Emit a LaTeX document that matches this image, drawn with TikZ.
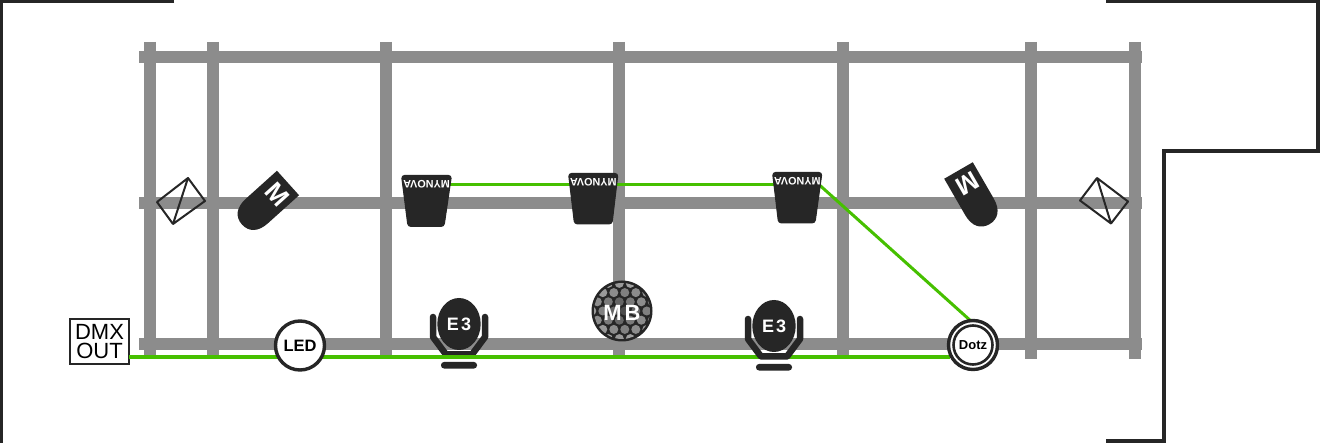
\documentclass[tikz,border=0pt]{standalone}
\usepackage{fontspec}
\setmainfont{Liberation Sans}
\definecolor{truss}{HTML}{8C8C8C}
\definecolor{ink}{HTML}{262626}
\definecolor{cable}{HTML}{46C000}
\tikzset{
  trussbar/.style={draw=truss,line width=12pt},
  wall/.style={draw=ink,line width=3.6pt,line join=miter},
  cablepath/.style={draw=cable,line width=3.6pt},
  cablethin/.style={draw=cable,line width=3pt},
  body/.style={fill=ink,draw=none},
  whitetext/.style={text=white,font=\bfseries\fontsize{#1}{#1}\selectfont,inner sep=0pt},
  darktext/.style={text=black,font=\bfseries\fontsize{#1}{#1}\selectfont,inner sep=0pt},
  strobe/.style={draw=ink,line width=2pt,line join=round},
  mynovabody/.style={fill=ink,draw=ink,line width=1pt,rounded corners=3pt},
  yoke/.style={draw=ink,line width=6.5pt,line join=round,line cap=round},
  ringa/.style={circle,draw=ink,fill=white,line width=3.4pt,inner sep=0pt},
}
\newcommand{\movinghead}[3]{% x y rotation
  \begin{scope}[shift={(#1,#2)},rotate=#3]
    \fill[body] (0,-16.5) -- (42,-16.5) .. controls (55,-16.5) and (62,-10) .. (62,0)
      .. controls (62,10) and (55,16.5) .. (42,16.5) -- (0,16.5) -- cycle;
  \end{scope}}
\newcommand{\mynova}[7]{% name left right top bottom botleft botright
  \path[mynovabody] (#2,#4) -- (#3,#4) -- (#7,#5) -- (#6,#5) -- cycle;
  \node[whitetext=10.8,rotate=180] (#1) at ({(#2+#3)/2},{#4+8.5}) {MYNOVA};}
\newcommand{\ethree}[3]{% name x y (ellipse centre)
  \begin{scope}[shift={(#2,#3)}]
    \draw[yoke] (-26,-7) -- (-26,13) -- (-13,30.5) -- (13,30.5) -- (26,13) -- (26,-7);
    \fill[body] (0,0) ellipse [x radius=21.7,y radius=26];
    \fill[body,rounded corners=3pt] (-18,38) rectangle (18,44.5);
    \node[whitetext=18] (#1) at (0,0) {E\kern2pt3};
  \end{scope}}
\begin{document}
\begin{tikzpicture}[x=1pt,y=-1pt]
\useasboundingbox (0,0) rectangle (1322,443);
\fill[white] (0,0) rectangle (1322,443);
% truss
\foreach \vx in {149.5,212.5,385.5,619,843,1031,1135}{\draw[trussbar] (\vx,42) -- (\vx,359);}
\foreach \hy in {57,203,344.5}{\draw[trussbar] (139,\hy) -- (1142,\hy);}
% walls
\draw[wall] (174,1.2) -- (1.6,1.2) -- (1.6,443);
\draw[wall] (1106,1.2) -- (1318,1.2) -- (1318,151) -- (1164,151) -- (1164,441) -- (1106,441);
% named anchors
\node[draw=ink,fill=white,line width=1.2pt,minimum width=59pt,minimum height=45pt,inner sep=0pt,align=center,
      font=\fontsize{22}{19.5}\selectfont] (dmx) at (99.5,341.5) {DMX\\OUT};
\coordinate (m1r) at (449,184.5);
\coordinate (m2l) at (570,184.5);
\coordinate (m2r) at (616,184.5);
\coordinate (m3l) at (774,184.5);
\coordinate (m3c) at (820,185.5);
\coordinate (dotzt) at (972,322);
\coordinate (dmxr) at (129,357);
\coordinate (dotzl) at (950,357);
% first E3 lies under the cable
\ethree{e1}{459}{324}
% cables
\draw[cablepath] (dmxr) -- (dotzl);
\draw[cablethin] (m1r) -- (m2l);
\draw[cablethin] (m2r) -- (m3l);
\draw[cablethin] (m3c) -- (dotzt);
% strobes
\path[strobe] (188,178) -- (205,201) -- (173,224) -- (157,202) -- cycle (188,178) -- (173,224);
\path[strobe] (1097,178) -- (1128,201.5) -- (1111,223.5) -- (1080,200.5) -- cycle (1097,178) -- (1111,223.5);
% moving heads
\movinghead{288}{183}{222}
\node[whitetext=26,rotate=-48] (mleft) at (277,195) {M};
\movinghead{958.5}{170.5}{300}
\node[whitetext=26,rotate=-150] (mright) at (968,184) {M};
% mynova
\mynova{my1}{401.5}{451.5}{175.5}{226.5}{408}{444}
\mynova{my2}{568.5}{618}{173.5}{224}{574.5}{612}
\mynova{my3}{772.5}{822}{172.5}{223}{778.5}{815}
% LED
\node[ringa,minimum size=49pt,darktext=16.5] (led) at (300,345.5) {LED};
% second E3
\ethree{e2}{774}{326}
% Mirror ball
\begin{scope}
  \fill[ink] (622,311) circle (30.5);
  \clip (622,311) circle (28);
  \foreach \ro/\off in {0/0,1/5.5,2/0,3/5.5,4/0,5/5.5,6/0}{
    \foreach \co in {-3,...,3}{
      \pgfmathsetmacro{\gg}{int(30+40*(1-abs(\co)/4)*(1-abs(\ro-3)/4))}
      \fill[black!\gg] ({622+\co*11+\off-2.7},{311+(\ro-3)*9.2}) circle (4.5);
    }
  }
\end{scope}
\node[whitetext=22] (mb) at (622,313) {M\kern3pt B};
% Dotz
\node[ringa,minimum size=49pt] (dotzo) at (973,345) {};
\node[circle,draw=ink,fill=white,line width=2.6pt,minimum size=39pt,inner sep=0pt] (dotzi) at (973,345) {};
\node[darktext=13] (dotz) at (973,345) {Dotz};
\end{tikzpicture}
\end{document}
